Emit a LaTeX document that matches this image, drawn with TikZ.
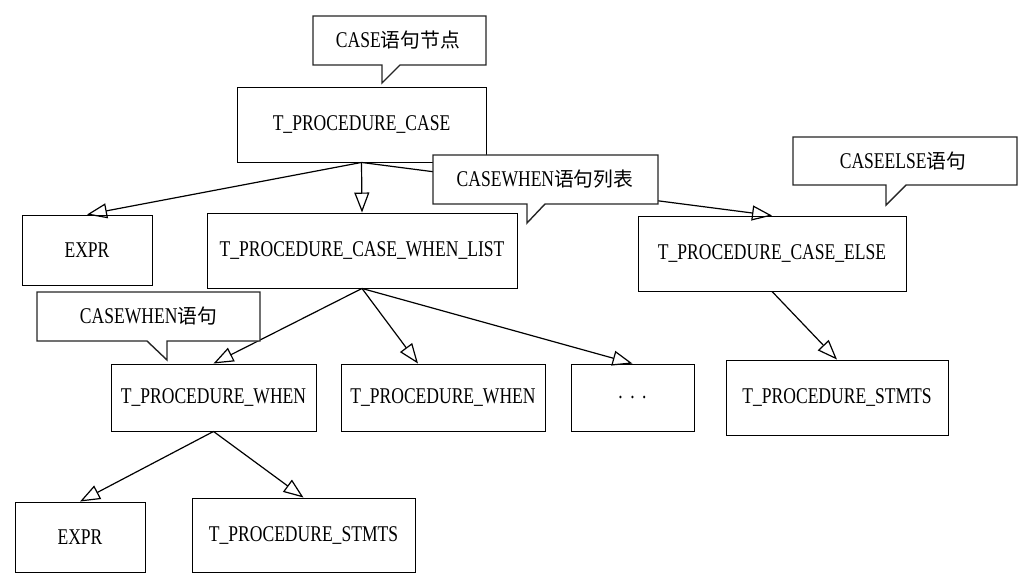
\documentclass[tikz,border=0pt]{standalone}
\usepackage{fontspec}
\setmainfont{Liberation Serif}[FakeStretch=0.78]
\newfontfamily\cjk{Noto Sans CJK SC}[Scale=0.88]
\usetikzlibrary{arrows.meta}

\begin{document}
\begin{tikzpicture}[x=1pt, y=-1pt,
    every node/.style = {font=\fontsize{22.5}{26}\selectfont},
    box/.style = {draw, line width=0.9pt, inner sep=0pt, minimum height=75pt},
    note/.style = {inner sep=0pt},
    bubble/.style = {draw=black!85, fill=white, line width=1.4pt, line join=miter},
    arr/.style = {line width=1.2pt, -{Triangle[open, length=20pt, width=15pt, line width=1.2pt]}}]
    \useasboundingbox (0,0) rectangle (1022,588);
    \node[box, minimum width=249pt] (case)   at (361.5,124.5) {T\_PROCEDURE\_CASE};
    \node[box, minimum width=130pt, minimum height=70pt] (expr) at (87,250) {EXPR};
    \node[box, minimum width=310pt] (list)   at (362,250.5) {T\_PROCEDURE\_CASE\_WHEN\_LIST};
    \node[box, minimum width=268pt] (else)   at (772,253.5) {T\_PROCEDURE\_CASE\_ELSE};
    \node[box, minimum width=205pt, minimum height=67pt] (when1) at (213.5,397.5) {T\_PROCEDURE\_WHEN};
    \node[box, minimum width=204pt, minimum height=67pt] (when2) at (443,397.5) {T\_PROCEDURE\_WHEN};
    \node[box, minimum width=123pt, minimum height=67pt] (dots)  at (632.5,397.5) {.\,\,.\,\,.};
    \node[box, minimum width=222pt] (stmts)  at (837,397.5) {T\_PROCEDURE\_STMTS};
    \node[box, minimum width=130pt, minimum height=70pt] (expr2) at (80,537) {EXPR};
    \node[box, minimum width=223pt, minimum height=74pt] (stmts2) at (303.5,535) {T\_PROCEDURE\_STMTS};
    \draw[arr] (case.south) -- (expr.north);
    \draw[arr] (case.south) -- (list.north);
    \draw[arr] (case.south) -- (else.north);
    \draw[arr] (list.south) -- (when1.north);
    \draw[arr] (list.south) -- ([xshift=-25pt]when2.north);
    \draw[arr] (list.south) -- (dots.north);
    \draw[arr] (else.south) -- (stmts.north);
    \draw[arr] (when1.south) -- (expr2.north);
    \draw[arr] (when1.south) -- (stmts2.north);
    \filldraw[bubble] (313,16) -- (486,16) -- (486,65) -- (400,65) -- (382,83) -- (382,65) -- (313,65) -- cycle;
    \node[note] (casenote) at (398,40.5) {CASE{\cjk 语句节点}};
    \filldraw[bubble] (433,155) -- (658,155) -- (658,204) -- (545,204) -- (527,223) -- (527,204) -- (433,204) -- cycle;
    \node[note] (listnote) at (545,179.5) {CASEWHEN{\cjk 语句列表}};
    \filldraw[bubble] (793,137) -- (1017,137) -- (1017,185) -- (906,185) -- (886,205) -- (886,185) -- (793,185) -- cycle;
    \node[note] (elsenote) at (903,161) {CASEELSE{\cjk 语句}};
    \filldraw[bubble] (37,292) -- (260,292) -- (260,341) -- (167,341) -- (167,360) -- (147,341) -- (37,341) -- cycle;
    \node[note] (whennote) at (148.5,316.5) {CASEWHEN{\cjk 语句}};
\end{tikzpicture}
\end{document}
